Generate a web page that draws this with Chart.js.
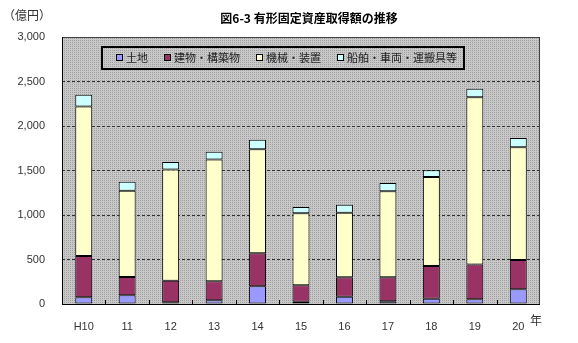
<!DOCTYPE html>
<html>
<head>
<meta charset="utf-8">
<script src="https://cdn.jsdelivr.net/npm/chart.js"></script>
<style>
  html, body { margin: 0; padding: 0; background: #fff; }
  #wrap { width: 578px; height: 343px; }
</style>
</head>
<body>
<div id="wrap"><canvas id="chart" width="578" height="343"></canvas></div>
<script>
const years = ['H10', '11', '12', '13', '14', '15', '16', '17', '18', '19', '20'];
const land = [75, 98, 20, 42, 200, 26, 82, 30, 60, 53, 165];
const buildings = [465, 205, 240, 213, 370, 184, 218, 270, 367, 390, 330];
const machinery = [1680, 970, 1250, 1370, 1170, 810, 726, 967, 1000, 1880, 1265];
const vehicles = [130, 100, 85, 86, 105, 70, 90, 93, 76, 95, 105];
const seriesNames = ['土地', '建物・構築物', '機械・装置', '船舶・車両・運搬具等'];
const seriesColors = ['#9999ff', '#993366', '#ffffcc', '#ccffff'];
const yMax = 3000;
const yStep = 500;

const jpFont = '"Noto Sans CJK JP", "MS PGothic", sans-serif';

// dithered grey like the old excel plot area
function makePattern() {
  const c = document.createElement('canvas');
  c.width = 2; c.height = 2;
  const g = c.getContext('2d');
  g.fillStyle = '#c8c8c8';
  g.fillRect(0, 0, 2, 2);
  g.fillStyle = '#a0a0a0';
  g.fillRect(0, 0, 1, 1);
  return g.createPattern(c, 'repeat');
}

const decor = {
  id: 'decor',
  beforeDraw(chart) {
    const { ctx, chartArea: a } = chart;
    ctx.save();
    ctx.fillStyle = makePattern();
    ctx.fillRect(a.left, a.top, a.right - a.left, a.bottom - a.top);
    ctx.restore();
  },
  afterDatasetsDraw(chart) {
    const { ctx, chartArea: a } = chart;
    const xs = chart.scales.x;
    ctx.save();
    // plot border
    ctx.strokeStyle = '#404040';
    ctx.lineWidth = 1;
    ctx.strokeRect(a.left + 0.5, a.top + 0.5, a.right - a.left - 1, a.bottom - a.top);
    ctx.strokeStyle = '#000';
    ctx.beginPath();
    ctx.moveTo(a.left, a.bottom + 0.5);
    ctx.lineTo(a.right, a.bottom + 0.5);
    ctx.moveTo(a.left + 0.5, a.top);
    ctx.lineTo(a.left + 0.5, a.bottom);
    // inside tick marks at category boundaries
    const step = (a.right - a.left) / years.length;
    for (let i = 1; i < years.length; i++) {
      const x = Math.round(xs.getPixelForValue(i) - step / 2) + 0.5;
      ctx.moveTo(x, a.bottom);
      ctx.lineTo(x, a.bottom - 4);
    }
    ctx.stroke();

    // legend box
    const lx = 102, ly = 47, lw = 362, lh = 22;
    ctx.fillStyle = makePattern();
    ctx.fillRect(lx, ly, lw, lh);
    ctx.lineWidth = 2;
    ctx.strokeStyle = '#000';
    ctx.strokeRect(lx, ly, lw, lh);
    ctx.font = '11px ' + jpFont;
    ctx.textBaseline = 'middle';
    let x = 116;
    seriesNames.forEach((name, i) => {
      ctx.fillStyle = seriesColors[i];
      ctx.fillRect(x, 54, 6, 6);
      ctx.lineWidth = 1;
      ctx.strokeStyle = '#000';
      ctx.strokeRect(x + 0.5, 54.5, 6, 6);
      ctx.fillStyle = '#222';
      ctx.fillText(name, x + 10, 58);
      x += 10 + ctx.measureText(name).width + 16;
    });

    // title, unit, year mark
    ctx.fillStyle = '#000';
    ctx.textAlign = 'center';
    ctx.font = 'bold 12px ' + jpFont;
    ctx.fillText('図6-3 有形固定資産取得額の推移', 309, 18);
    ctx.font = '12px ' + jpFont;
    ctx.fillStyle = '#333';
    ctx.fillText('（億円）', 27, 15);
    ctx.fillText('年', 536, 320);
    ctx.restore();
  }
};

const datasets = [land, buildings, machinery, vehicles].map((vals, i) => ({
  label: seriesNames[i],
  data: vals,
  backgroundColor: seriesColors[i],
  borderColor: '#000',
  borderWidth: 1,
  borderSkipped: false,
  categoryPercentage: 1,
  barPercentage: 0.39
}));

new Chart(document.getElementById('chart'), {
  type: 'bar',
  data: { labels: years, datasets },
  plugins: [decor],
  options: {
    responsive: false,
    animation: false,
    devicePixelRatio: 1,
    layout: { padding: { left: 0, top: 37, right: 38, bottom: 0 } },
    plugins: {
      legend: { display: false },
      tooltip: { enabled: false }
    },
    scales: {
      x: {
        stacked: true,
        grid: { display: false },
        border: { display: false },
        ticks: { color: '#333', font: { family: 'Liberation Sans', size: 11 }, padding: 8, maxRotation: 0 },
        afterFit(s) { s.height = 39; }
      },
      y: {
        stacked: true,
        min: 0,
        max: yMax,
        border: { display: false, dash: [3, 2] },
        grid: {
          drawTicks: false,
          color: '#303030',
          lineWidth: 1
        },
        ticks: {
          stepSize: yStep,
          padding: 17,
          color: '#333',
          font: { family: 'Liberation Sans', size: 11 },
          callback: v => v.toLocaleString('en-US')
        },
        afterFit(s) { s.width = 62; }
      }
    }
  }
});
</script>
</body>
</html>
